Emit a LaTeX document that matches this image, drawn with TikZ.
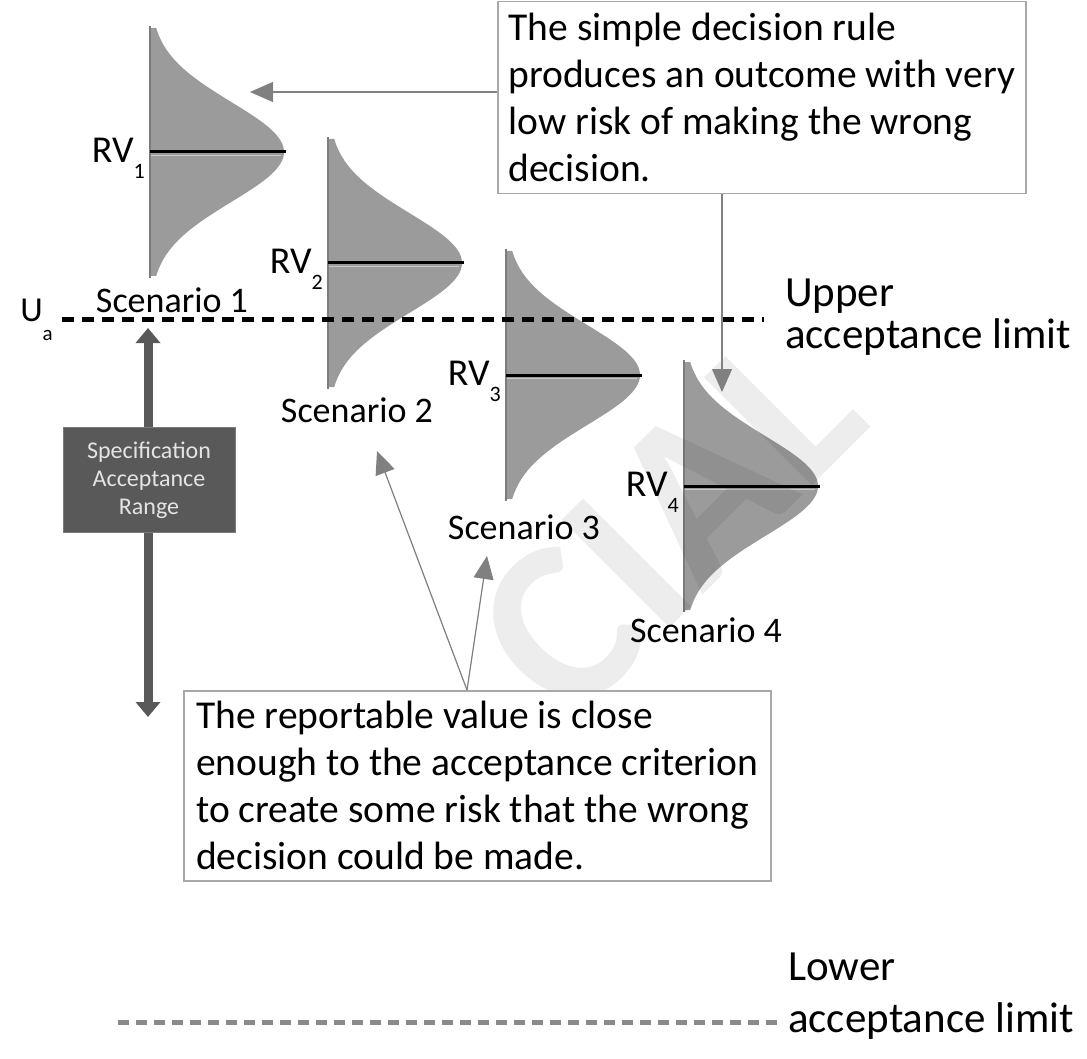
\documentclass[tikz,border=0pt]{standalone}
\usepackage{fontspec}
\setmainfont{Carlito}
\usetikzlibrary{arrows.meta}

\definecolor{curvefill}{HTML}{9B9B9B}
\definecolor{curveedge}{HTML}{7C7C7C}
\definecolor{peakhi}{HTML}{C9C9C9}
\definecolor{callline}{HTML}{808080}
\definecolor{callborder}{HTML}{A8A8A8}
\definecolor{specgray}{HTML}{595959}
\definecolor{specedge}{HTML}{7A7A7A}
\definecolor{spectext}{HTML}{E4E4E4}
\definecolor{lowdash}{HTML}{8A8A8A}

% one bell curve: baseline x, peak y
\newcommand\drawbell[2]{%
  \fill[curvefill] (#1,#2-124)
    -- plot[domain=-124:124,samples=90] ({#1+134*exp(-(\x*\x)/5000)},{#2+\x})
    -- (#1,#2+124) -- cycle;
  \draw[curveedge,line width=2] (#1,#2-126) -- (#1,#2+126);
  \draw[peakhi,line width=1.2] (#1+1,#2+3.2) -- (#1+131,#2+3.2);
  \draw[black,line width=3] (#1,#2) -- (#1+136,#2);
}

\begin{document}
\begin{tikzpicture}[x=1pt,y=-1pt,
  lbl/.style={inner sep=0pt,font=\fontsize{36}{40}\selectfont},
  rvlbl/.style={inner sep=0pt,anchor=east,font=\fontsize{38}{40}\selectfont},
  callbox/.style={draw=callborder,line width=1.5,fill=white,align=left,
    inner sep=0pt,font=\fontsize{39.5}{47}\selectfont},
  callout/.style={draw=callline,line width=1.2,
    -{Triangle[length=23,width=20]},fill=callline},
  specarrow/.style={draw=specgray,line width=9,
    {Triangle[length=15,width=24]}-{Triangle[length=15,width=24]}},
  limitlbl/.style={inner sep=0pt,anchor=west,align=left},
]
\useasboundingbox (0,0) rectangle (1087,1059);

% distributions of the four reportable values
\drawbell{150}{152}
\drawbell{328}{263}
\drawbell{506}{375}
\drawbell{684}{486}

% background watermark
\node[rotate=45,text=black,text opacity=0.07,inner sep=0pt,
  font=\bfseries\fontsize{235}{235}\selectfont] (mark) at (668,522) {CIAL};

% reportable value labels
\node[rvlbl] (rv1) at (145,158) {RV\raisebox{-0.42em}{\fontsize{22}{22}\selectfont 1}};
\node[rvlbl] (rv2) at (323,269) {RV\raisebox{-0.42em}{\fontsize{22}{22}\selectfont 2}};
\node[rvlbl] (rv3) at (501,381) {RV\raisebox{-0.42em}{\fontsize{22}{22}\selectfont 3}};
\node[rvlbl] (rv4) at (679,492) {RV\raisebox{-0.42em}{\fontsize{22}{22}\selectfont 4}};

% scenario captions
\node[lbl] (sc1) at (172,300) {Scenario 1};
\node[lbl] (sc2) at (357,410) {Scenario 2};
\node[lbl] (sc3) at (524,527) {Scenario 3};
\node[lbl] (sc4) at (706,630) {Scenario 4};

% upper acceptance limit
\draw[black,line width=5,dash pattern=on 12 off 8] (62,320) -- (764,320);
\node[inner sep=0pt,anchor=east,font=\fontsize{35}{35}\selectfont] (ua) at (53,320)
  {U\raisebox{-0.55em}{\fontsize{21}{21}\selectfont a}};
\node[limitlbl,font=\fontsize{43}{42}\selectfont] (upper) at (785,317)
  {Upper\\acceptance limit};

% lower acceptance limit
\draw[lowdash,line width=5,dash pattern=on 11 off 7] (118,1022) -- (782,1022);
\node[limitlbl,font=\fontsize{43}{52}\selectfont] (lower) at (788,996)
  {Lower\\acceptance limit};

% specification range
\coordinate (spectop) at (148,328);
\coordinate (specbot) at (148,717);
\draw[specarrow] (spectop) -- (specbot);
\node[fill=specgray,draw=specedge,line width=1,minimum width=172,minimum height=105,
  inner sep=0pt,align=center,text=spectext,font=\fontsize{24}{28}\selectfont]
  (spec) at (149,480) {Specification\\Acceptance\\Range};

% callouts
\node[callbox,anchor=north west,minimum width=528,minimum height=192] (topbox) at (497,1)
  {The simple decision rule\\produces an outcome with very\\low risk of making the wrong\\decision.};
\node[callbox,anchor=north west,minimum width=587,minimum height=190] (botbox) at (183,690)
  {The reportable value is close\\enough to the acceptance criterion\\to create some risk that the wrong\\decision could be made.};

\coordinate (tip1) at (250,92);
\coordinate (tip4) at (722,392);
\coordinate (tip2) at (377,451);
\coordinate (tip3) at (487,556);
\coordinate (fork) at (467,690);
\draw[callout] (topbox.west |- tip1) -- (tip1);
\draw[callout] (topbox.south -| tip4) -- (tip4);
\draw[callout] (fork) -- (tip2);
\draw[callout] (fork) -- (tip3);
\end{tikzpicture}
\end{document}
